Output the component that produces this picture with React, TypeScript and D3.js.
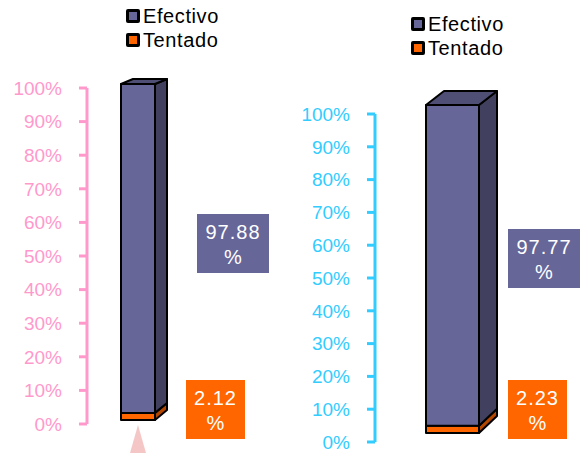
import React from "react";
import * as d3 from "d3";

const categories = ["Efectivo", "Tentado"];
const leftValues = [97.88, 2.12];
const rightValues = [97.77, 2.23];
const tickValues = [0, 10, 20, 30, 40, 50, 60, 70, 80, 90, 100];
const seriesColors = ["#666699", "#ff6600"];
const sideColors = ["#41415f", "#b34700"];
const topColor = "#4f4f75";

const FONT = "'Liberation Sans', Arial, sans-serif";

type Cfg = {
  values: number[];
  axisX: number;
  y0: number;
  y100: number;
  axisColor: string;
  labelColor: string;
  barX0: number;
  barX1: number;
  depth: number;
  dyTop: number;
  dyBot: number;
  barShift: number;
  legendX: number;
  legendY: number;
  legendGap: number;
  boxes: { x: number; y: number; w: number; h: number }[];
  triangle?: boolean;
};

function Chart({ c }: { c: Cfg }) {
  const y = d3.scaleLinear().domain([0, 100]).range([c.y0, c.y100]);
  const fmt = (d: number) => `${d}%`;
  // stack: Tentado at the bottom, Efectivo on top
  const row = { Efectivo: c.values[0], Tentado: c.values[1] };
  const series = d3.stack<any>().keys(["Tentado", "Efectivo"])([row]);
  const seg = series.map((s) => {
    const k = categories.indexOf(s.key);
    const [lo, hi] = s[0];
    return { k, yTop: y(hi) + c.barShift, yBot: y(lo) + c.barShift };
  });
  const x0 = c.barX0, x1 = c.barX1, dx = c.depth;
  const topAll = d3.min(seg, (s) => s.yTop)!;
  const botAll = d3.max(seg, (s) => s.yBot)!;
  const dyAt = (yy: number) =>
    c.dyBot + ((c.dyTop - c.dyBot) * (botAll - yy)) / (botAll - topAll);
  return (
    <g>
      {/* axis */}
      <line x1={c.axisX} x2={c.axisX} y1={c.y100} y2={c.y0} stroke={c.axisColor} strokeWidth={3} />
      {tickValues.map((t) => (
        <g key={t}>
          <line x1={c.axisX - 8} x2={c.axisX} y1={y(t)} y2={y(t)} stroke={c.axisColor} strokeWidth={3} />
          <text
            x={c.axisX - 25}
            y={y(t)}
            dy="0.36em"
            textAnchor="end"
            fontFamily={FONT}
            fontSize={19}
            fill={c.labelColor}
          >
            {fmt(t)}
          </text>
        </g>
      ))}
      {c.triangle && (
        <polygon
          points={`${(x0 + x1) / 2},${c.y0 + 1} ${(x0 + x1) / 2 - 8},453 ${(x0 + x1) / 2 + 8},453`}
          fill="#f2b8b8"
          opacity={0.8}
        />
      )}
      {/* bars */}
      {seg.map((b, idx) => {
        const dT = dyAt(b.yTop), dB = dyAt(b.yBot);
        const isTop = idx === seg.length - 1;
        return (
          <g key={b.k} stroke="#000" strokeWidth={2} strokeLinejoin="round">
            <rect x={x0} y={b.yTop} width={x1 - x0} height={b.yBot - b.yTop} fill={seriesColors[b.k]} />
            <polygon
              points={`${x1},${b.yTop} ${x1 + dx},${b.yTop + dT} ${x1 + dx},${b.yBot + dB} ${x1},${b.yBot}`}
              fill={sideColors[b.k]}
            />
            {isTop && (
              <polygon
                points={`${x0},${b.yTop} ${x0 + dx},${b.yTop + dT} ${x1 + dx},${b.yTop + dT} ${x1},${b.yTop}`}
                fill={topColor}
              />
            )}
          </g>
        );
      })}
      {/* value boxes */}
      {c.boxes.map((bx, k) => (
        <g key={k}>
          <rect x={bx.x} y={bx.y} width={bx.w} height={bx.h} fill={seriesColors[k]} />
          <text x={bx.x + bx.w / 2} y={bx.y + 25} textAnchor="middle" fontFamily={FONT} fontSize={20} fill="#fff" letterSpacing={1}>
            {c.values[k].toFixed(2)}
          </text>
          <text x={bx.x + bx.w / 2} y={bx.y + 50} textAnchor="middle" fontFamily={FONT} fontSize={20} fill="#fff">
            %
          </text>
        </g>
      ))}
      {/* legend */}
      {categories.map((cat, k) => (
        <g key={cat} transform={`translate(${c.legendX},${c.legendY + k * c.legendGap})`}>
          <rect x={0} y={0} width={14} height={14} rx={2} fill="#000" />
          <rect x={3} y={3} width={8} height={8} fill={seriesColors[k]} />
          <text x={17} y={14} fontFamily={FONT} fontSize={20} fill="#000" letterSpacing={0.6}>
            {cat}
          </text>
        </g>
      ))}
    </g>
  );
}

const leftCfg: Cfg = {
  values: leftValues,
  axisX: 87,
  y0: 424,
  y100: 88,
  axisColor: "#ff99cc",
  labelColor: "#ff99cc",
  barX0: 121,
  barX1: 155,
  depth: 12,
  dyTop: -5,
  dyBot: -10,
  barShift: -4,
  legendX: 126,
  legendY: 9,
  legendGap: 24,
  boxes: [
    { x: 197, y: 214, w: 72, h: 59 },
    { x: 186, y: 380, w: 59, h: 59 },
  ],
  triangle: true,
};

const rightCfg: Cfg = {
  values: rightValues,
  axisX: 375,
  y0: 442,
  y100: 114,
  axisColor: "#33ccff",
  labelColor: "#33ccff",
  barX0: 426,
  barX1: 479,
  depth: 18,
  dyTop: -14,
  dyBot: -17,
  barShift: -9,
  legendX: 411,
  legendY: 17,
  legendGap: 24,
  boxes: [
    { x: 508, y: 229, w: 72, h: 59 },
    { x: 508, y: 380, w: 59, h: 59 },
  ],
};

export default function App() {
  return (
    <svg
      width={586}
      height={453}
      style={{ position: "absolute", left: 0, top: 0, background: "#fff" }}
    >
      <Chart c={leftCfg} />
      <Chart c={rightCfg} />
    </svg>
  );
}
